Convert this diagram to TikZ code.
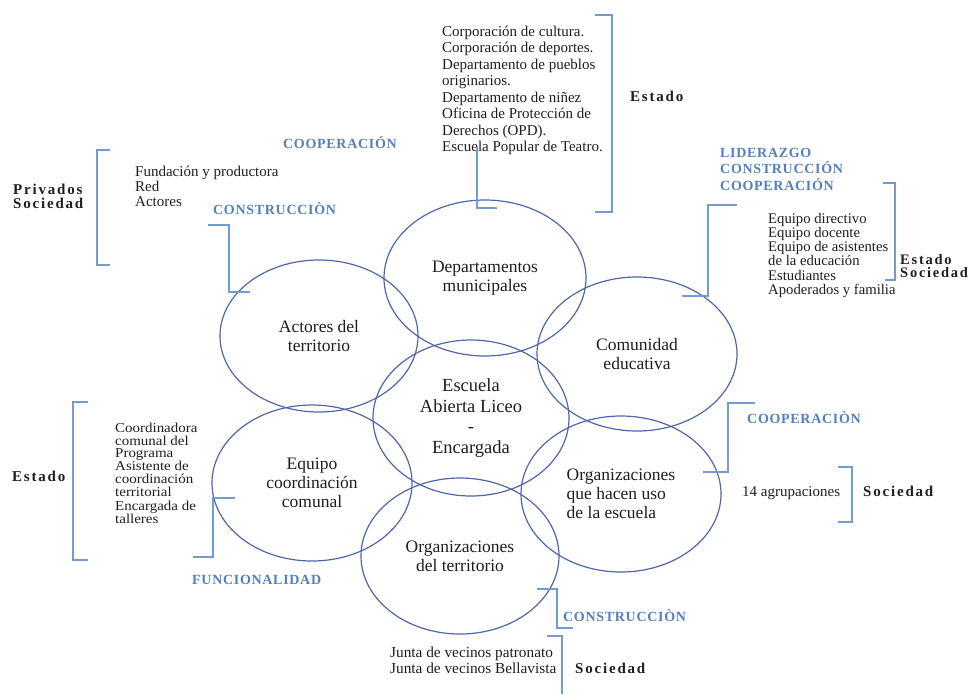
\documentclass[tikz,border=0pt]{standalone}
\usepackage{fontspec}
\setmainfont{Liberation Serif}
\newfontfamily\spacedfont[LetterSpace=5]{Liberation Serif}
\newfontfamily\boldspaced[LetterSpace=12]{Liberation Serif}
\newfontfamily\widefont[FakeStretch=1.1]{Liberation Serif}
\usetikzlibrary{shapes.geometric}
\definecolor{ellc}{RGB}{78,103,170}
\definecolor{brkc}{RGB}{115,155,208}
\definecolor{lblc}{RGB}{84,128,190}
\definecolor{txtc}{RGB}{30,30,30}
\newcommand\tblock[1]{\begin{tabular}[t]{@{}l@{}}#1\end{tabular}}
\tikzset{
  ell/.style={ellipse, draw=ellc, line width=1.2pt, inner sep=0pt, align=center,
    text=txtc, font=\fontsize{17.5}{19}\selectfont},
  brk/.style={draw=brkc, line width=1.4pt},
  side/.style={anchor=base west, inner sep=0pt, text=txtc},
  relabel/.style={anchor=base west, inner sep=0pt, text=lblc,
    font=\spacedfont\bfseries\fontsize{14}{15}\selectfont},
  grp/.style={anchor=base west, inner sep=0pt, text=txtc,
    font=\boldspaced\bfseries\fontsize{15}{14}\selectfont},
}
\begin{document}
\begin{tikzpicture}[x=1pt,y=-1pt]
\useasboundingbox (0,0) rectangle (975,694);

% ---- ellipses ----
\node[ell, minimum width=202pt, minimum height=156pt] (dep) at (485,278) {Departamentos\\municipales};
\node[ell, minimum width=198pt, minimum height=152pt] (act) at (319,336) {Actores del\\territorio};
\node[ell, minimum width=200pt, minimum height=154pt] (com) at (637,354) {Comunidad\\educativa};
\node[ell, minimum width=196pt, minimum height=156pt, font=\fontsize{18.5}{20.5}\selectfont] (esc) at (471,418) {Escuela\\Abierta Liceo\\-\\Encargada};
\node[ell, minimum width=200pt, minimum height=156pt] (equ) at (312,483) {Equipo\\coordinación\\comunal};
\node[ell, minimum width=200pt, minimum height=156pt, align=left] (ouso) at (621,494) {Organizaciones\\que hacen uso\\de la escuela};
\node[ell, minimum width=198pt, minimum height=156pt] (oter) at (460,556) {Organizaciones\\del territorio};

% ---- top group (Departamentos) ----
\node[side, font=\fontsize{15}{16.5}\selectfont] (toptxt) at (442,36) {\tblock{Corporación de cultura.\\Corporación de deportes.\\Departamento de pueblos\\originarios.\\Departamento de niñez\\Oficina de Protección de\\Derechos (OPD).\\Escuela Popular de Teatro.}};
\node[grp] (topgrp) at (630,101) {Estado};
\coordinate (b1a) at (595,15); \coordinate (b1b) at (612,212); \coordinate (b1c) at (595,212);
\draw[brk] (b1a) -| (b1b) -- (b1c);
\coordinate (ct1) at (477,147); \coordinate (ct2) at (497,208);
\draw[brk] (ct1) |- (ct2);
\node[relabel] (coopTop) at (283,148) {COOPERACIÓN};

% ---- left top group (Actores) ----
\node[grp] (lgrp) at (13,194) {\tblock{Privados\\Sociedad}};
\node[side, font=\fontsize{15}{15}\selectfont] (ltxt) at (135,176) {\tblock{Fundación y productora\\Red\\Actores}};
\coordinate (b2a) at (110,150); \coordinate (b2b) at (97,265); \coordinate (b2c) at (110,265);
\draw[brk] (b2a) -| (b2b) -- (b2c);
\node[relabel] (consL) at (213,214) {CONSTRUCCIÒN};
\coordinate (ca1) at (208,225); \coordinate (ca2) at (229,292); \coordinate (ca3) at (250,292);
\draw[brk] (ca1) -| (ca2) -- (ca3);

% ---- right top group (Comunidad educativa) ----
\node[relabel] (lidr) at (720,157) {\tblock{LIDERAZGO\\CONSTRUCCIÓN\\COOPERACIÓN}};
\coordinate (cc1) at (737,205); \coordinate (cc2) at (708,296); \coordinate (cc3) at (682,296);
\draw[brk] (cc1) -| (cc2) -- (cc3);
\node[side, font=\fontsize{14.7}{13.6}\selectfont] (rtxt) at (768,223) {\tblock{Equipo directivo\\Equipo docente\\Equipo de asistentes\\de la educación\\Estudiantes\\Apoderados y familia}};
\coordinate (b3a) at (883,183); \coordinate (b3b) at (895,280); \coordinate (b3c) at (885,280);
\draw[brk] (b3a) -| (b3b) -- (b3c);
\node[grp, font=\boldspaced\bfseries\fontsize{14.5}{13}\selectfont] (rgrp) at (900,264) {\tblock{Estado\\Sociedad}};

% ---- left middle group (Equipo) ----
\node[grp] (lmgrp) at (12,481) {Estado};
\coordinate (b4a) at (88,402); \coordinate (b4b) at (73,560); \coordinate (b4c) at (88,560);
\draw[brk] (b4a) -| (b4b) -- (b4c);
\node[side, font=\widefont\fontsize{13.6}{12.2}\selectfont] (lmtxt) at (115,432) {\tblock{Coordinadora\\comunal del\\Programa\\Asistente de\\coordinación\\territorial\\Encargada de\\talleres}};
\coordinate (cq1) at (235,498); \coordinate (cq2) at (213,557); \coordinate (cq3) at (193,557);
\draw[brk] (cq1) -| (cq2) -- (cq3);
\node[relabel] (func) at (192,584) {FUNCIONALIDAD};

% ---- bottom group (Organizaciones del territorio) ----
\coordinate (co1) at (537,589); \coordinate (co2) at (557,628); \coordinate (co3) at (573,628);
\draw[brk] (co1) -| (co2) -- (co3);
\node[relabel] (consB) at (563,621) {CONSTRUCCIÒN};
\node[side, font=\fontsize{15.3}{16}\selectfont] (btxt) at (390,657) {\tblock{Junta de vecinos patronato\\Junta de vecinos Bellavista}};
\coordinate (b5a) at (547,636); \coordinate (b5b) at (562,694);
\draw[brk] (b5a) -| (b5b);
\node[grp] (bgrp) at (575,673) {Sociedad};

% ---- right middle group (Organizaciones que hacen uso) ----
\coordinate (cu1) at (755,403); \coordinate (cu2) at (728,472); \coordinate (cu3) at (703,472);
\draw[brk] (cu1) -| (cu2) -- (cu3);
\node[relabel] (coopR) at (747,423) {COOPERACIÒN};
\node[side, font=\fontsize{15}{16}\selectfont] (rmtxt) at (742,496) {14 agrupaciones};
\coordinate (b6a) at (838,467); \coordinate (b6b) at (852,522); \coordinate (b6c) at (838,522);
\draw[brk] (b6a) -| (b6b) -- (b6c);
\node[grp] (rmgrp) at (863,496) {Sociedad};
\end{tikzpicture}
\end{document}
